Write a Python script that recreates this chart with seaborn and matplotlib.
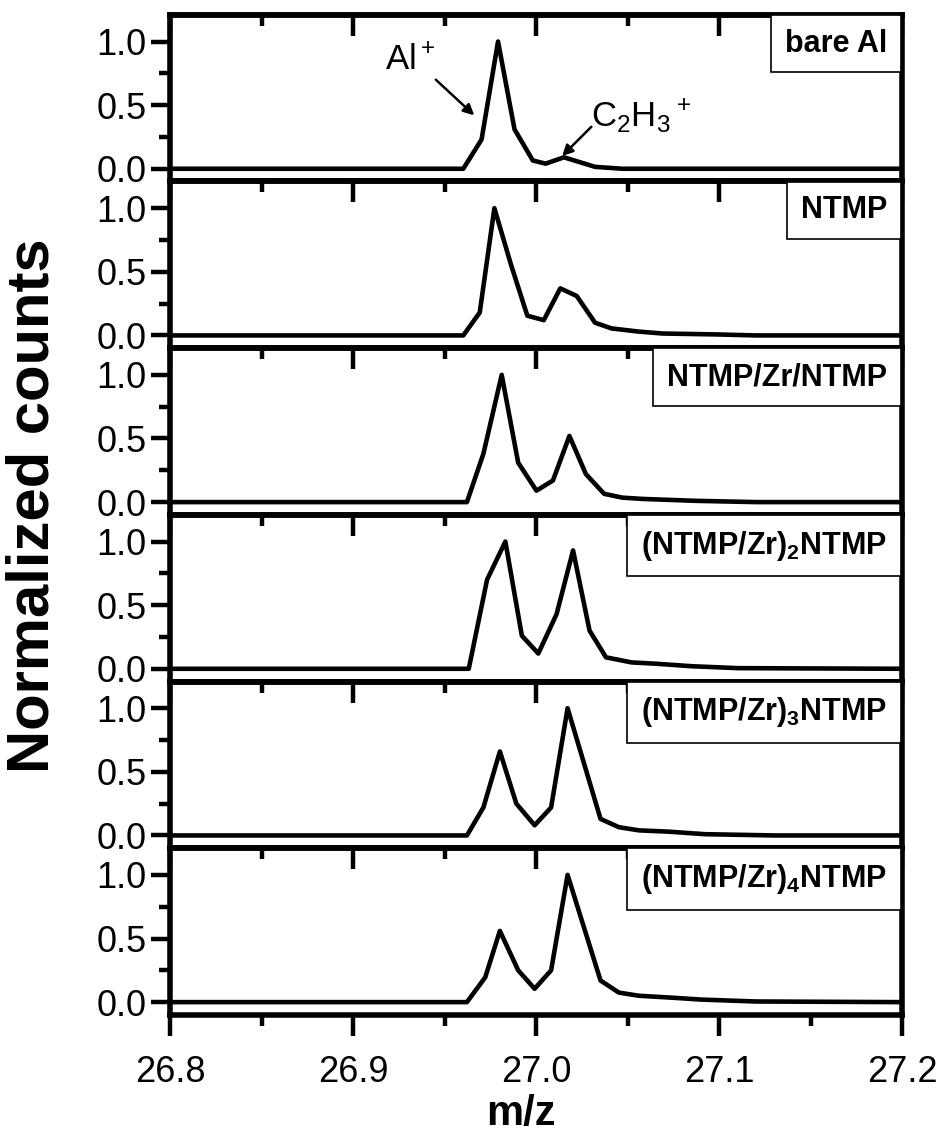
import numpy as np
import pandas as pd
import matplotlib
matplotlib.use("Agg")
import matplotlib.pyplot as plt
from matplotlib.ticker import MultipleLocator, FormatStrFormatter
import seaborn as sns

# panel labels (top to bottom)
labels = ["bare Al", "NTMP", "NTMP/Zr/NTMP",
          r"(NTMP/Zr)$_\mathbf{2}$NTMP", r"(NTMP/Zr)$_\mathbf{3}$NTMP", r"(NTMP/Zr)$_\mathbf{4}$NTMP"]

# spectra (m/z, normalized counts)
mz_bare = [26.80, 26.960, 26.970, 26.979, 26.988, 26.998, 27.005, 27.015, 27.032, 27.047, 27.20]
cnt_bare = [0.0, 0.0, 0.23, 1.0, 0.31, 0.065, 0.04, 0.09, 0.015, 0.0, 0.0]

mz_ntmp = [26.80, 26.960, 26.969, 26.977, 26.986, 26.995, 27.004, 27.013, 27.022, 27.032,
           27.041, 27.056, 27.069, 27.098, 27.12, 27.20]
cnt_ntmp = [0.0, 0.0, 0.18, 1.0, 0.56, 0.155, 0.12, 0.37, 0.31, 0.10,
            0.055, 0.03, 0.015, 0.008, 0.0, 0.0]

mz_z1 = [26.80, 26.962, 26.971, 26.981, 26.990, 27.000, 27.009, 27.018, 27.027, 27.037,
         27.047, 27.058, 27.087, 27.12, 27.20]
cnt_z1 = [0.0, 0.0, 0.38, 1.0, 0.31, 0.09, 0.17, 0.52, 0.22, 0.065,
          0.035, 0.025, 0.01, 0.0, 0.0]

mz_z2 = [26.80, 26.963, 26.973, 26.983, 26.992, 27.001, 27.011, 27.020, 27.029, 27.038,
         27.052, 27.065, 27.085, 27.11, 27.20]
cnt_z2 = [0.0, 0.0, 0.70, 1.0, 0.26, 0.12, 0.43, 0.93, 0.30, 0.09,
          0.05, 0.04, 0.02, 0.005, 0.0]

mz_z3 = [26.80, 26.962, 26.971, 26.980, 26.989, 26.999, 27.008, 27.017, 27.035, 27.045,
         27.056, 27.072, 27.092, 27.13, 27.20]
cnt_z3 = [0.0, 0.0, 0.22, 0.66, 0.25, 0.08, 0.22, 1.0, 0.13, 0.065,
          0.04, 0.03, 0.01, 0.0, 0.0]

mz_z4 = [26.80, 26.962, 26.972, 26.980, 26.990, 26.999, 27.008, 27.017, 27.035, 27.045,
         27.056, 27.074, 27.090, 27.12, 27.20]
cnt_z4 = [0.0, 0.0, 0.195, 0.56, 0.25, 0.105, 0.25, 1.0, 0.17, 0.075,
          0.05, 0.035, 0.02, 0.005, 0.0]

series = [(mz_bare, cnt_bare), (mz_ntmp, cnt_ntmp), (mz_z1, cnt_z1),
          (mz_z2, cnt_z2), (mz_z3, cnt_z3), (mz_z4, cnt_z4)]

sns.set_style("ticks")
plt.rcParams['font.family'] = ['Liberation Sans', 'DejaVu Sans']
plt.rcParams['mathtext.fontset'] = 'custom'
plt.rcParams['mathtext.rm'] = 'Liberation Sans'
plt.rcParams['mathtext.bf'] = 'Liberation Sans:bold'
plt.rcParams['text.color'] = 'black'
plt.rcParams['xtick.color'] = 'black'
plt.rcParams['ytick.color'] = 'black'
plt.rcParams['axes.edgecolor'] = 'black'

fig, axes = plt.subplots(6, 1, figsize=(9.47, 11.39), dpi=100, sharex=True)
fig.subplots_adjust(left=0.18, right=0.953, top=0.987, bottom=0.109, hspace=0)

for i, (ax, (mz, cnt), lab) in enumerate(zip(axes, series, labels)):
    df = pd.DataFrame({"mz": mz, "counts": cnt})
    sns.lineplot(data=df, x="mz", y="counts", ax=ax, color="black", lw=3.3)
    ax.set_xlim(26.8, 27.2)
    ax.set_ylim(-0.1, 1.21)
    ax.set_xlabel("")
    ax.set_ylabel("")
    for s in ax.spines.values():
        s.set_linewidth(4)
        s.set_visible(True)
    ax.yaxis.set_major_locator(MultipleLocator(0.5))
    ax.yaxis.set_minor_locator(MultipleLocator(0.25))
    ax.xaxis.set_major_locator(MultipleLocator(0.1))
    ax.xaxis.set_minor_locator(MultipleLocator(0.05))
    ax.tick_params(axis='y', which='major', direction='out', length=14, width=3.2,
                   labelsize=26, left=True, right=False, pad=3)
    ax.tick_params(axis='y', which='minor', direction='out', length=8, width=3.2, left=True, right=False)
    ax.yaxis.set_major_formatter(FormatStrFormatter('%.1f'))
    # top ticks pointing into the panel
    top = ax.secondary_xaxis('top')
    top.xaxis.set_major_locator(MultipleLocator(0.1))
    top.xaxis.set_minor_locator(MultipleLocator(0.05))
    top.tick_params(axis='x', which='major', direction='in', length=15, width=3.2, labeltop=False)
    top.tick_params(axis='x', which='minor', direction='in', length=8, width=3.2, labeltop=False)
    top.spines['top'].set_linewidth(4)
    if i < 5:
        ax.tick_params(axis='x', which='both', bottom=False, labelbottom=False)
    else:
        ax.tick_params(axis='x', which='major', direction='out', length=15, width=3.2,
                       labelsize=26, pad=14)
        ax.tick_params(axis='x', which='minor', direction='out', length=8, width=3.2)
        ax.xaxis.set_major_formatter(FormatStrFormatter('%.1f'))
    ax.annotate(lab, xy=(1, 1), xycoords='axes fraction', xytext=(-11, -10),
                textcoords='offset points', ha='right', va='top',
                fontsize=22, fontweight='bold',
                bbox=dict(boxstyle='square,pad=0.45', fc='white', ec='black', lw=1.2))

# peak annotations on the top panel
ax0 = axes[0]
ax0.text(26.931, 0.86, r"Al$^+$", ha='center', va='center', fontsize=25)
ax0.annotate("", xy=(26.966, 0.42), xytext=(26.945, 0.70),
             arrowprops=dict(arrowstyle='-|>', color='black', lw=1.8, mutation_scale=16,
                             shrinkA=0, shrinkB=0))
ax0.text(27.030, 0.42, r"C$_2$H$_3$$^+$", ha='left', va='center', fontsize=25)
ax0.annotate("", xy=(27.014, 0.10), xytext=(27.030, 0.33),
             arrowprops=dict(arrowstyle='-|>', color='black', lw=1.8, mutation_scale=16,
                             shrinkA=0, shrinkB=0))

fig.text(0.035, 0.556, "Normalized counts", rotation=90, ha='center', va='center',
         fontsize=43, fontweight='bold')
fig.text(0.55, 0.022, "m/z", ha='center', va='center', fontsize=30, fontweight='bold')

fig.savefig("out.png", dpi=100)
